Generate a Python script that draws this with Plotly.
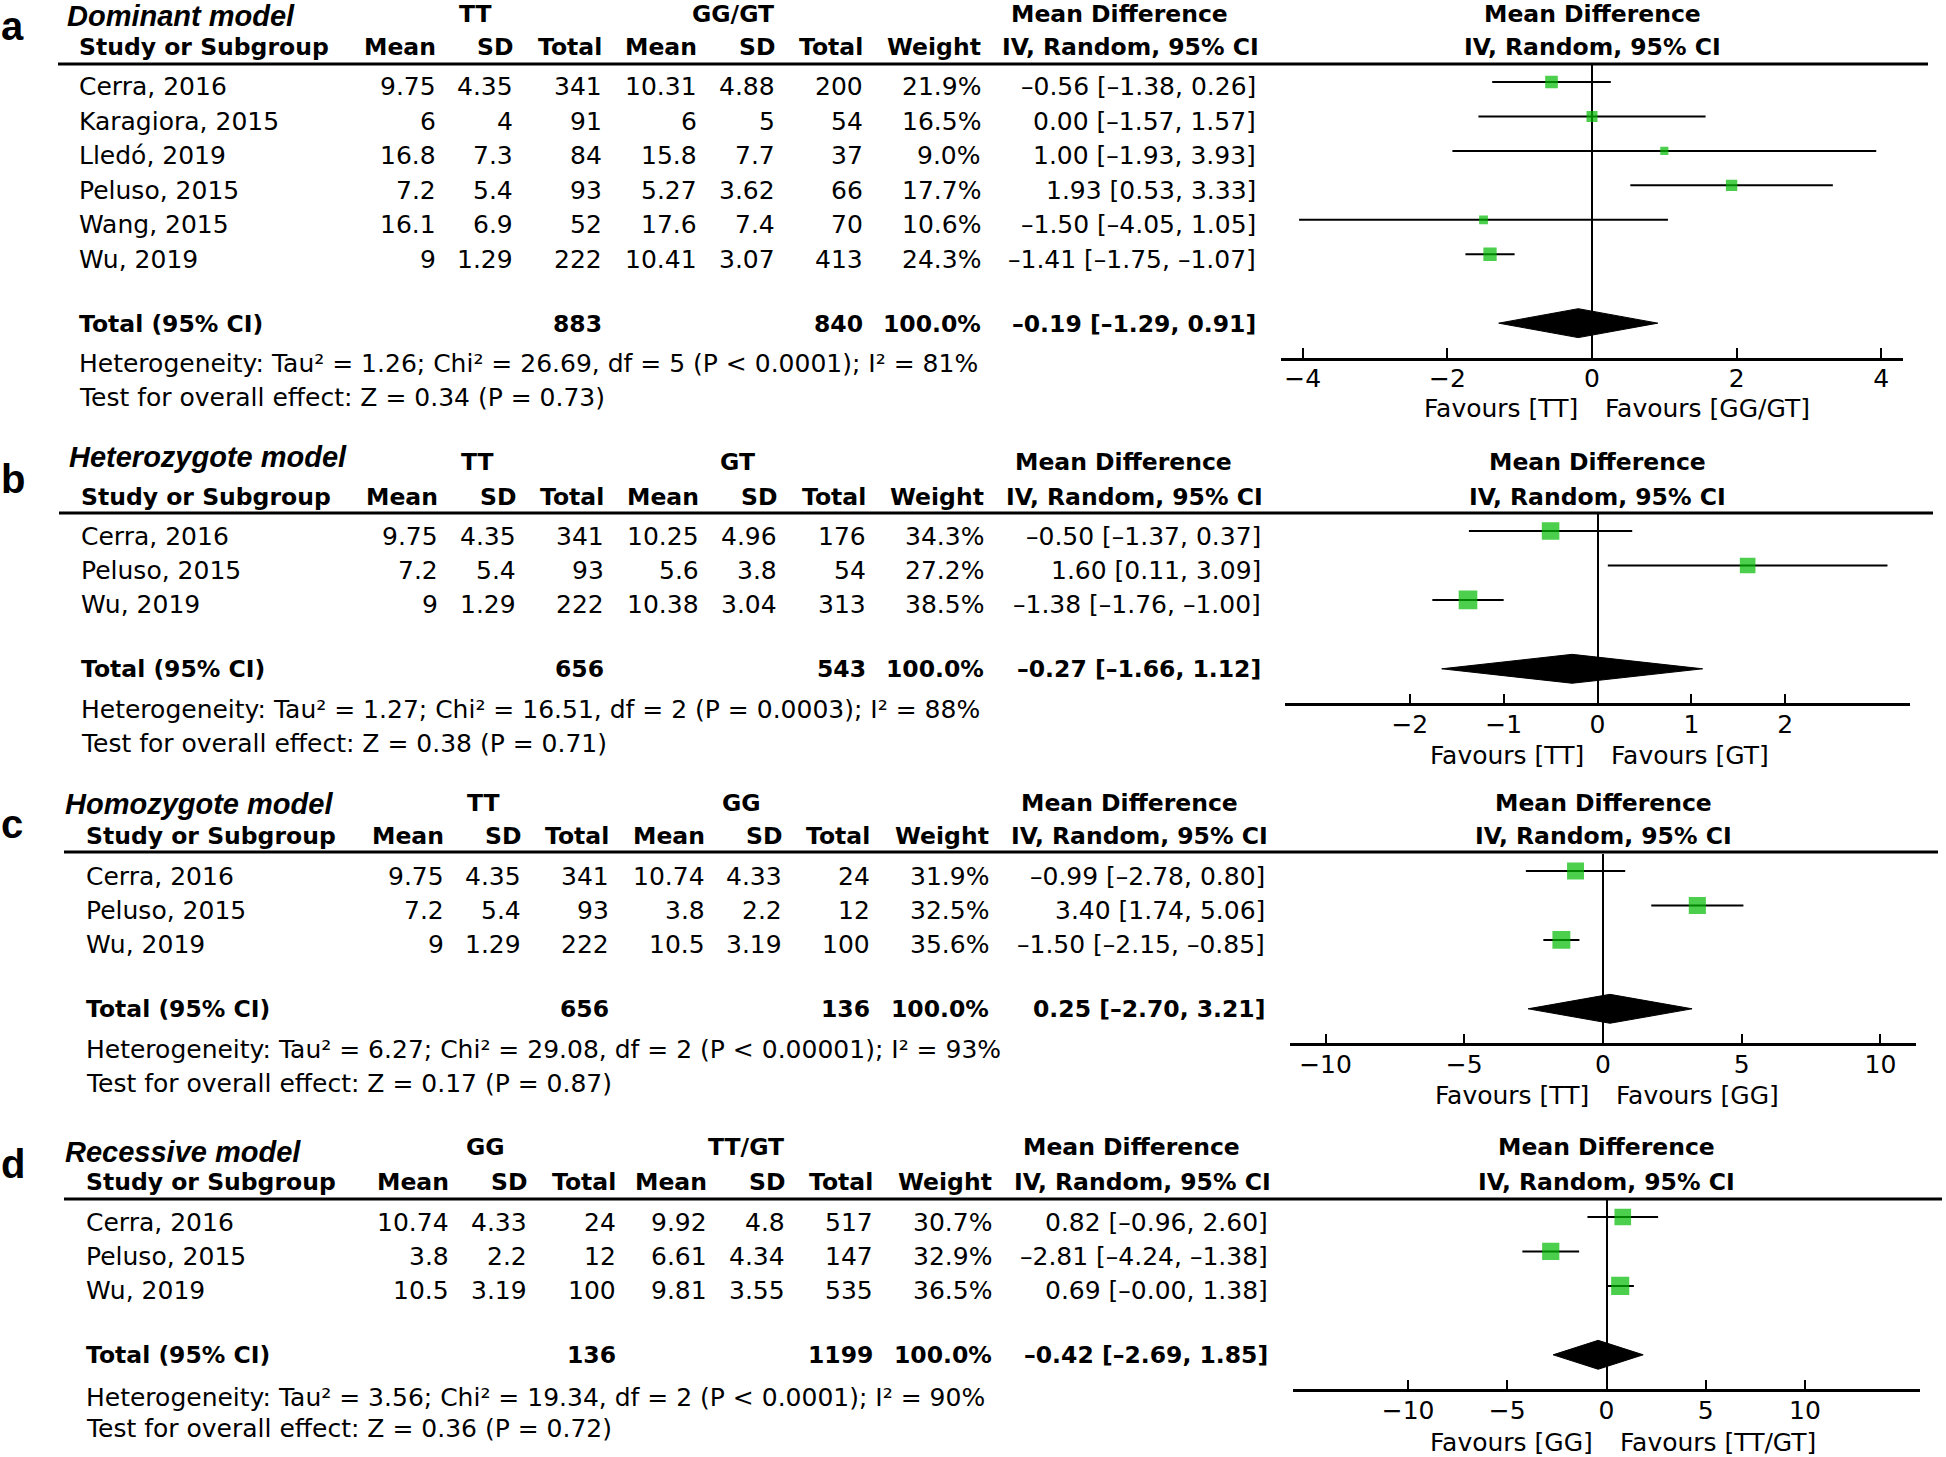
import math
import plotly.graph_objects as go

W, H = 1946, 1457
FONT = "DejaVu Sans"
TFONT = "Liberation Sans"

# ---------------- data ----------------
# a: Dominant model (TT vs GG/GT)
a_groups = ["TT", "GG/GT"]
a_studies = ["Cerra, 2016", "Karagiora, 2015", "Lledó, 2019", "Peluso, 2015", "Wang, 2015", "Wu, 2019"]
a_mean1 = [9.75, 6, 16.8, 7.2, 16.1, 9]
a_sd1 = [4.35, 4, 7.3, 5.4, 6.9, 1.29]
a_n1 = [341, 91, 84, 93, 52, 222]
a_mean2 = [10.31, 6, 15.8, 5.27, 17.6, 10.41]
a_sd2 = [4.88, 5, 7.7, 3.62, 7.4, 3.07]
a_n2 = [200, 54, 37, 66, 70, 413]
a_weight = [21.9, 16.5, 9.0, 17.7, 10.6, 24.3]
a_md = [-0.56, 0.00, 1.00, 1.93, -1.50, -1.41]
a_lo = [-1.38, -1.57, -1.93, 0.53, -4.05, -1.75]
a_hi = [0.26, 1.57, 3.93, 3.33, 1.05, -1.07]
a_total = [883, 840, 100.0]
a_pooled = [-0.19, -1.29, 0.91]
a_het = [1.26, 26.69, 5, "P < 0.0001", 81]
a_test = [0.34, 0.73]
a_ticks = [-4, -2, 0, 2, 4]
a_favours = ["Favours [TT]", "Favours [GG/GT]"]

# b: Heterozygote model (TT vs GT)
b_groups = ["TT", "GT"]
b_studies = ["Cerra, 2016", "Peluso, 2015", "Wu, 2019"]
b_mean1 = [9.75, 7.2, 9]
b_sd1 = [4.35, 5.4, 1.29]
b_n1 = [341, 93, 222]
b_mean2 = [10.25, 5.6, 10.38]
b_sd2 = [4.96, 3.8, 3.04]
b_n2 = [176, 54, 313]
b_weight = [34.3, 27.2, 38.5]
b_md = [-0.50, 1.60, -1.38]
b_lo = [-1.37, 0.11, -1.76]
b_hi = [0.37, 3.09, -1.00]
b_total = [656, 543, 100.0]
b_pooled = [-0.27, -1.66, 1.12]
b_het = [1.27, 16.51, 2, "P = 0.0003", 88]
b_test = [0.38, 0.71]
b_ticks = [-2, -1, 0, 1, 2]
b_favours = ["Favours [TT]", "Favours [GT]"]

# c: Homozygote model (TT vs GG)
c_groups = ["TT", "GG"]
c_studies = ["Cerra, 2016", "Peluso, 2015", "Wu, 2019"]
c_mean1 = [9.75, 7.2, 9]
c_sd1 = [4.35, 5.4, 1.29]
c_n1 = [341, 93, 222]
c_mean2 = [10.74, 3.8, 10.5]
c_sd2 = [4.33, 2.2, 3.19]
c_n2 = [24, 12, 100]
c_weight = [31.9, 32.5, 35.6]
c_md = [-0.99, 3.40, -1.50]
c_lo = [-2.78, 1.74, -2.15]
c_hi = [0.80, 5.06, -0.85]
c_total = [656, 136, 100.0]
c_pooled = [0.25, -2.70, 3.21]
c_het = [6.27, 29.08, 2, "P < 0.00001", 93]
c_test = [0.17, 0.87]
c_ticks = [-10, -5, 0, 5, 10]
c_favours = ["Favours [TT]", "Favours [GG]"]

# d: Recessive model (GG vs TT/GT)
d_groups = ["GG", "TT/GT"]
d_studies = ["Cerra, 2016", "Peluso, 2015", "Wu, 2019"]
d_mean1 = [10.74, 3.8, 10.5]
d_sd1 = [4.33, 2.2, 3.19]
d_n1 = [24, 12, 100]
d_mean2 = [9.92, 6.61, 9.81]
d_sd2 = [4.8, 4.34, 3.55]
d_n2 = [517, 147, 535]
d_weight = [30.7, 32.9, 36.5]
d_md = [0.82, -2.81, 0.69]
d_lo = [-0.96, -4.24, -0.0]
d_hi = [2.60, -1.38, 1.38]
d_total = [136, 1199, 100.0]
d_pooled = [-0.42, -2.69, 1.85]
d_het = [3.56, 19.34, 2, "P < 0.0001", 90]
d_test = [0.36, 0.72]
d_ticks = [-10, -5, 0, 5, 10]
d_favours = ["Favours [GG]", "Favours [TT/GT]"]

panels = [
    dict(letter="a", title="Dominant model", groups=a_groups, studies=a_studies, mean1=a_mean1, sd1=a_sd1,
         n1=a_n1, mean2=a_mean2, sd2=a_sd2, n2=a_n2, weight=a_weight, md=a_md, lo=a_lo, hi=a_hi,
         total=a_total, pooled=a_pooled, het=a_het, test=a_test, ticks=a_ticks, favours=a_favours),
    dict(letter="b", title="Heterozygote model", groups=b_groups, studies=b_studies, mean1=b_mean1, sd1=b_sd1,
         n1=b_n1, mean2=b_mean2, sd2=b_sd2, n2=b_n2, weight=b_weight, md=b_md, lo=b_lo, hi=b_hi,
         total=b_total, pooled=b_pooled, het=b_het, test=b_test, ticks=b_ticks, favours=b_favours),
    dict(letter="c", title="Homozygote model", groups=c_groups, studies=c_studies, mean1=c_mean1, sd1=c_sd1,
         n1=c_n1, mean2=c_mean2, sd2=c_sd2, n2=c_n2, weight=c_weight, md=c_md, lo=c_lo, hi=c_hi,
         total=c_total, pooled=c_pooled, het=c_het, test=c_test, ticks=c_ticks, favours=c_favours),
    dict(letter="d", title="Recessive model", groups=d_groups, studies=d_studies, mean1=d_mean1, sd1=d_sd1,
         n1=d_n1, mean2=d_mean2, sd2=d_sd2, n2=d_n2, weight=d_weight, md=d_md, lo=d_lo, hi=d_hi,
         total=d_total, pooled=d_pooled, het=d_het, test=d_test, ticks=d_ticks, favours=d_favours),
]

# ---------------- layout (pixel positions) ----------------
geo = [
    dict(letter_y=26, title_x=66, title_y=16, h1=14, h2=47, line_y=64, line_x0=58, line_x1=1928, study_x=78,
         rights=[437, 514, 603, 698, 776, 864, 982, 1257], g1x=475, g2x=733, mdx=1119, ivx=1130,
         f_row0=82, f_x0=1281, f_x1=1903, f_half=4.3, total_y=324, het_y=363, test_y=397, fav_y=408, k=2.7),
    dict(letter_y=479, title_x=68, title_y=457, h1=462, h2=497, line_y=513, line_x0=59, line_x1=1933, study_x=80,
         rights=[439, 517, 605, 700, 778, 867, 985, 1262], g1x=477, g2x=737, mdx=1123, ivx=1134,
         f_row0=531, f_x0=1285, f_x1=1910, f_half=3.33, total_y=669, het_y=709, test_y=743, fav_y=755, k=3.0),
    dict(letter_y=824, title_x=64, title_y=804, h1=803, h2=836, line_y=852, line_x0=64, line_x1=1938, study_x=85,
         rights=[445, 522, 610, 706, 783, 871, 990, 1266], g1x=483, g2x=741, mdx=1129, ivx=1139,
         f_row0=871, f_x0=1290, f_x1=1916, f_half=11.28, total_y=1009, het_y=1049, test_y=1083, fav_y=1095, k=3.0),
    dict(letter_y=1164, title_x=64, title_y=1152, h1=1147, h2=1182, line_y=1199, line_x0=64, line_x1=1942, study_x=85,
         rights=[450, 528, 617, 708, 786, 874, 993, 1269], g1x=485, g2x=746, mdx=1131, ivx=1142,
         f_row0=1217, f_x0=1293, f_x1=1920, f_half=15.8, total_y=1355, het_y=1397, test_y=1428, fav_y=1442, k=3.0),
]

SP = 34.45          # row spacing (px)
FS = 25             # regular font size
FB = 23.5           # bold font size

annotations = []
shapes = []
fig = go.Figure()


def txt(x, y, s, anchor="left", size=FS, bold=False, family=FONT):
    if bold:
        s = "<b>" + s + "</b>"
    annotations.append(dict(x=x / W, y=1 - y / H, xref="paper", yref="paper", text=s, showarrow=False,
                            xanchor=anchor, yanchor="middle", borderpad=0,
                            font=dict(family=family, size=size, color="black")))


def fmt_md(m, l, h):
    return f"{m:.2f} [{l:.2f}, {h:.2f}]".replace("-", "–")


layout_axes = {}
for k, (p, g) in enumerate(zip(panels, geo), start=1):
    sfx = "" if k == 1 else str(k)
    R = g["rights"]
    n = len(p["studies"])
    # panel letter and title
    txt(0, g["letter_y"], "<b>" + p["letter"] + "</b>", size=40, family=TFONT)
    txt(g["title_x"], g["title_y"], "<b><i>" + p["title"] + "</i></b>", size=29, family=TFONT)
    # group headers
    txt(g["g1x"], g["h1"], p["groups"][0], anchor="center", size=FB, bold=True)
    txt(g["g2x"], g["h1"], p["groups"][1], anchor="center", size=FB, bold=True)
    txt(g["mdx"], g["h1"], "Mean Difference", anchor="center", size=FB, bold=True)
    fz = (g["f_x0"] + g["f_x1"]) / 2
    txt(fz, g["h1"], "Mean Difference", anchor="center", size=FB, bold=True)
    # column headers
    txt(g["study_x"], g["h2"], "Study or Subgroup", size=FB, bold=True)
    for lab, xr in zip(["Mean", "SD", "Total", "Mean", "SD", "Total", "Weight"], R[:7]):
        txt(xr, g["h2"], lab, anchor="right", size=FB, bold=True)
    txt(g["ivx"], g["h2"], "IV, Random, 95% CI", anchor="center", size=FB, bold=True)
    txt(fz, g["h2"], "IV, Random, 95% CI", anchor="center", size=FB, bold=True)
    # header rule
    shapes.append(dict(type="line", xref="paper", yref="paper", x0=g["line_x0"] / W, x1=g["line_x1"] / W,
                       y0=1 - g["line_y"] / H, y1=1 - g["line_y"] / H, line=dict(color="black", width=3)))
    # study rows
    for i in range(n):
        y = g["f_row0"] + 5 + i * SP
        vals = [str(p["mean1"][i]), str(p["sd1"][i]), str(p["n1"][i]), str(p["mean2"][i]),
                str(p["sd2"][i]), str(p["n2"][i]), f"{p['weight'][i]:.1f}%",
                fmt_md(p["md"][i], p["lo"][i], p["hi"][i])]
        txt(g["study_x"], y, p["studies"][i])
        for v, xr in zip(vals, R):
            txt(xr, y, v, anchor="right")
    # total row
    ty = g["total_y"]
    txt(g["study_x"], ty, "Total (95% CI)", size=FB, bold=True)
    txt(R[2], ty, str(p["total"][0]), anchor="right", size=FB, bold=True)
    txt(R[5], ty, str(p["total"][1]), anchor="right", size=FB, bold=True)
    txt(R[6], ty, f"{p['total'][2]:.1f}%", anchor="right", size=FB, bold=True)
    txt(R[7], ty, fmt_md(*p["pooled"]), anchor="right", size=FB, bold=True)
    tau2, chi2, df, pv, i2 = p["het"]
    txt(g["study_x"], g["het_y"],
        f"Heterogeneity: Tau² = {tau2:.2f}; Chi² = {chi2:.2f}, df = {df} ({pv}); I² = {i2}%")
    txt(g["study_x"], g["test_y"], f"Test for overall effect: Z = {p['test'][0]:.2f} (P = {p['test'][1]:.2f})")

    # favours labels
    txt(fz - 13, g["fav_y"], p["favours"][0], anchor="right")
    txt(fz + 12, g["fav_y"], p["favours"][1], anchor="left")

    # ---- forest plot ----
    xa, ya = "x" + sfx, "y" + sfx
    total_idx = n + 1
    axis_idx = n + 2
    top_px = g["f_row0"] - 0.5 * SP
    bot_px = g["f_row0"] + axis_idx * SP
    xs, ys = [], []
    for i in range(n):
        xs += [p["lo"][i], p["hi"][i], None]
        ys += [i, i, None]
    fig.add_trace(go.Scatter(x=xs, y=ys, mode="lines", line=dict(color="black", width=2),
                             xaxis=xa, yaxis=ya, hoverinfo="skip", showlegend=False))
    fig.add_trace(go.Scatter(x=p["md"], y=list(range(n)), mode="markers",
                             marker=dict(symbol="square", color="#00BB00",
                                         size=[g["k"] * math.sqrt(w) for w in p["weight"]],
                                         line=dict(width=0)),
                             xaxis=xa, yaxis=ya, showlegend=False))
    m, lo, hi = p["pooled"]
    hh = 0.42
    fig.add_trace(go.Scatter(x=[lo, m, hi, m, lo], y=[total_idx, total_idx - hh, total_idx, total_idx + hh, total_idx],
                             mode="lines", fill="toself", fillcolor="black", line=dict(color="black", width=1),
                             xaxis=xa, yaxis=ya, showlegend=False))
    layout_axes["xaxis" + sfx] = dict(
        domain=[g["f_x0"] / W, g["f_x1"] / W], range=[-g["f_half"], g["f_half"]], anchor=ya,
        showgrid=False, zeroline=True, zerolinecolor="black", zerolinewidth=2,
        showline=True, linecolor="black", linewidth=2.5, ticks="inside", ticklen=10, tickwidth=2,
        tickcolor="black", tickvals=p["ticks"], tickfont=dict(family=FONT, size=FS, color="black"),
        ticklabelstandoff=-3, fixedrange=True)
    layout_axes["yaxis" + sfx] = dict(
        domain=[1 - bot_px / H, 1 - top_px / H], range=[axis_idx, -0.5], anchor=xa,
        visible=False, showgrid=False, zeroline=False, fixedrange=True)

fig.update_layout(
    width=W, height=H, margin=dict(l=0, r=0, t=0, b=0),
    paper_bgcolor="white", plot_bgcolor="white",
    annotations=annotations, shapes=shapes, showlegend=False,
    **layout_axes,
)
fig.write_html("out.html", config={"displayModeBar": False},
               post_script="document.body.style.margin='0';document.body.style.overflow='hidden';")
